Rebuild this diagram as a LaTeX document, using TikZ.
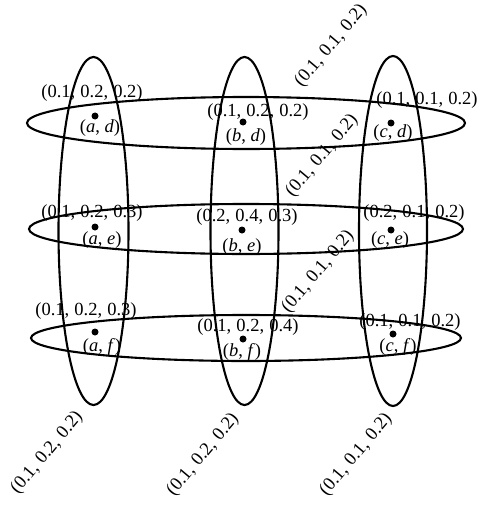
\documentclass[tikz,border=0pt]{standalone}
\usepackage{fontspec}
\setmainfont{Liberation Serif}
\newcommand{\tri}[3]{(#1,\hspace{0.28em}#2,\hspace{0.28em}#3)}
\newcommand{\pr}[2]{(\textit{#1},\hspace{0.25em}\textit{#2})}
\begin{document}
\begin{tikzpicture}[x=1pt,y=-1pt,
  ell/.style={line width=2.1pt},
  pt/.style={circle,fill=black,inner sep=0pt,minimum size=7pt},
  lbl/.style={inner sep=0pt,font=\fontsize{18.5}{20}\selectfont},
  rlbl/.style={lbl,rotate=50}]
\useasboundingbox (0,0) rectangle (482,508);
% horizontal ellipses
\draw[ell] (246,123) ellipse [x radius=219, y radius=26];
\draw[ell] (246,229) ellipse [x radius=217, y radius=25];
\draw[ell] (246,338) ellipse [x radius=215, y radius=23];
% vertical ellipses
\draw[ell] (93.5,231) ellipse [x radius=35, y radius=174];
\draw[ell] (244.5,231) ellipse [x radius=34, y radius=174];
\draw[ell] (393,231) ellipse [x radius=34, y radius=175];
% points
\node[pt] (ad) at (95,116) {};
\node[pt] (bd) at (243,122) {};
\node[pt] (cd) at (391,123) {};
\node[pt] (ae) at (95,227) {};
\node[pt] (be) at (242,230) {};
\node[pt] (ce) at (391,230) {};
\node[pt] (af) at (95,332) {};
\node[pt] (bf) at (243,339) {};
\node[pt] (cf) at (393,334) {};
% point labels
\node[lbl] (lad) at (100,128) {\pr{a}{d}};
\node[lbl] (lbd) at (246,137) {\pr{b}{d}};
\node[lbl] (lcd) at (393,133) {\pr{c}{d}};
\node[lbl] (lae) at (102,240) {\pr{a}{e}};
\node[lbl] (lbe) at (242,247) {\pr{b}{e}};
\node[lbl] (lce) at (390,240) {\pr{c}{e}};
\node[lbl] (laf) at (102,347) {\pr{a}{f}};
\node[lbl] (lbf) at (242,352) {\pr{b}{f}};
\node[lbl] (lcf) at (398,347) {\pr{c}{f}};
% value labels
\node[lbl] (vad) at (92,93) {\tri{0.1}{0.2}{0.2}};
\node[lbl] (vbd) at (258,112) {\tri{0.1}{0.2}{0.2}};
\node[lbl] (vcd) at (427,100) {\tri{0.1}{0.1}{0.2}};
\node[lbl] (vae) at (92,213) {\tri{0.1}{0.2}{0.3}};
\node[lbl] (vbe) at (247,217) {\tri{0.2}{0.4}{0.3}};
\node[lbl] (vce) at (414,213) {\tri{0.2}{0.1}{0.2}};
\node[lbl] (vaf) at (86,311) {\tri{0.1}{0.2}{0.3}};
\node[lbl] (vbf) at (248,327) {\tri{0.1}{0.2}{0.4}};
\node[lbl] (vcf) at (410,322) {\tri{0.1}{0.1}{0.2}};
% rotated labels
\node[rlbl] (r1) at (331,46) {\tri{0.1}{0.1}{0.2}};
\node[rlbl] (r2) at (322,156) {\tri{0.1}{0.1}{0.2}};
\node[rlbl] (r3) at (318,272) {\tri{0.1}{0.1}{0.2}};
\node[rlbl] (r4) at (47,453) {\tri{0.1}{0.2}{0.2}};
\node[rlbl] (r5) at (203,455) {\tri{0.1}{0.2}{0.2}};
\node[rlbl] (r6) at (356,455) {\tri{0.1}{0.1}{0.2}};
\end{tikzpicture}
\end{document}
